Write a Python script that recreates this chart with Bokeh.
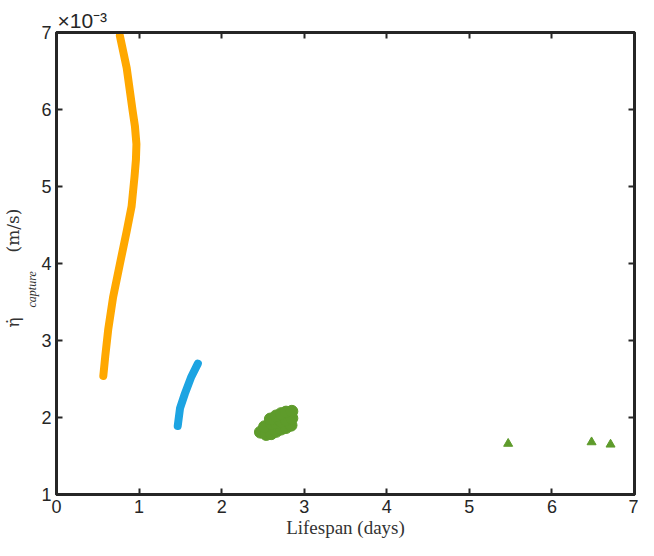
import numpy as np
from bokeh.plotting import figure
from bokeh.models import LinearAxis, Title, Range1d, FixedTicker
from bokeh.embed import file_html
from bokeh.resources import INLINE

# ---- data ----
orange_x = [0.767, 0.850, 0.921, 0.950, 0.968, 0.962, 0.945, 0.909, 0.850, 0.767, 0.685, 0.626, 0.590, 0.567]
orange_y = [6.96, 6.54, 5.99, 5.78, 5.55, 5.35, 5.13, 4.74, 4.42, 3.99, 3.56, 3.14, 2.79, 2.54]

blue_x = [1.712, 1.633, 1.555, 1.496, 1.468]
blue_y = [2.70, 2.53, 2.31, 2.12, 1.89]

green_x = [2.47, 2.54, 2.60, 2.66, 2.72, 2.78, 2.84,
           2.52, 2.60, 2.66, 2.72, 2.78, 2.85,
           2.59, 2.66, 2.72, 2.78, 2.85]
green_y = [1.81, 1.78, 1.79, 1.82, 1.85, 1.87, 1.90,
           1.88, 1.92, 1.93, 1.95, 1.97, 1.99,
           1.98, 2.02, 2.05, 2.07, 2.08]

tri_x = [5.47, 6.48, 6.71]
tri_y = [1.66, 1.68, 1.65]

x_ticks = [0, 1, 2, 3, 4, 5, 6, 7]
y_ticks = [1, 2, 3, 4, 5, 6, 7]

ORANGE = "#FFA800"
BLUE = "#1DA4E2"
GREEN = "#5E9B2B"
AX = "#262626"
LBL = "#333333"

p = figure(width=638, height=540, output_backend="svg", toolbar_location=None,
           x_range=Range1d(0, 7), y_range=Range1d(1, 7),
           min_border_left=55, min_border_top=32, min_border_right=4, min_border_bottom=40)
p.grid.visible = False
p.outline_line_color = AX
p.outline_line_width = 3

p.line(orange_x, orange_y, line_color=ORANGE, line_width=8, line_cap="round", line_join="round")
p.line(blue_x, blue_y, line_color=BLUE, line_width=8, line_cap="round", line_join="round")
p.scatter(green_x, green_y, size=12, color=GREEN, line_color=GREEN)
p.scatter(tri_x, tri_y, marker="triangle", size=9, color=GREEN, line_color=GREEN)

p.xaxis.ticker = FixedTicker(ticks=x_ticks)
p.yaxis.ticker = FixedTicker(ticks=y_ticks)
for ax in p.xaxis + p.yaxis:
    ax.axis_line_color = AX
    ax.axis_line_width = 3
    ax.major_tick_in = 6
    ax.major_tick_out = 0
    ax.major_tick_line_width = 2
    ax.major_tick_line_color = AX
    ax.minor_tick_line_color = None
    ax.major_label_text_font = "Liberation Sans"
    ax.major_label_text_color = AX
    ax.major_label_text_font_size = "18px"
p.xaxis.major_label_standoff = 5
p.yaxis.major_label_standoff = 5

p.xaxis.axis_label = "Lifespan (days)"
p.xaxis.axis_label_text_font = "Liberation Serif"
p.xaxis.axis_label_text_font_style = "normal"
p.xaxis.axis_label_text_font_size = "19px"
p.xaxis.axis_label_text_color = LBL
p.xaxis.axis_label_standoff = 1

top = LinearAxis(ticker=FixedTicker(ticks=x_ticks),
                 major_label_overrides={t: "" for t in x_ticks})
right = LinearAxis(ticker=FixedTicker(ticks=y_ticks),
                   major_label_overrides={t: "" for t in y_ticks})
for ax in (top, right):
    ax.axis_line_color = AX
    ax.axis_line_width = 3
    ax.major_tick_in = 6
    ax.major_tick_out = 0
    ax.major_tick_line_width = 2
    ax.major_tick_line_color = AX
    ax.minor_tick_line_color = None
    ax.major_label_text_font_size = "1px"
    ax.major_label_standoff = 0
p.add_layout(top, "above")
p.add_layout(right, "right")

# exponent above the frame
p.title.text = "\u00d710\u207b\u00b3"
p.title.align = "left"
p.title.text_font = "Liberation Sans"
p.title.text_font_size = "21px"
p.title.text_font_style = "normal"
p.title.text_color = AX
p.title.standoff = 1
p.title.offset = 1

# y axis label: subscript column (closer to the axis), then main column
sub = Title(text="capture", align="left", offset=187, standoff=0,
            text_font="Liberation Serif", text_font_style="italic",
            text_font_size="12px", text_color=LBL)
main = Title(text="\u03b7\u0307" + "\u00a0" * 12 + "(m/s)", align="left", offset=167, standoff=0,
             text_font="DejaVu Serif", text_font_style="normal",
             text_font_size="17px", text_color=LBL)
p.add_layout(sub, "left")
p.add_layout(main, "left")

open("out.html", "w").write(file_html(p, INLINE))
